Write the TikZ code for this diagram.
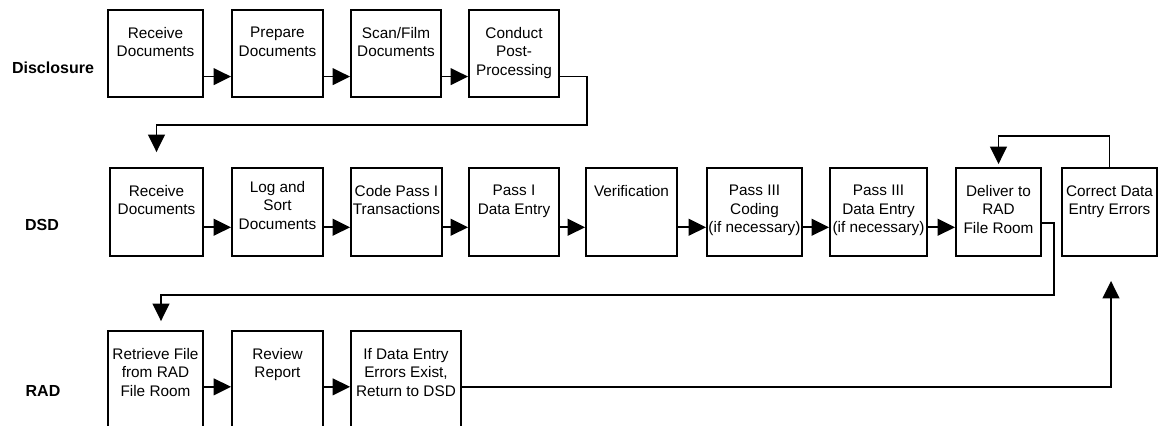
\documentclass[tikz,border=0pt]{standalone}
\usepackage{fontspec}
\setmainfont{Liberation Sans}
\usetikzlibrary{arrows.meta, calc, positioning}

\tikzset{
  box/.style 2 args={draw, line width=1.4pt, inner sep=0pt, minimum width=#1*0.75pt, minimum height=#2*0.75pt},
  txt/.style={anchor=north, align=center, inner sep=0pt, yshift=-13.5pt, font=\fontsize{11.5}{13.9}\selectfont},
  lane/.style={font=\fontsize{12}{14}\selectfont\bfseries},
  flow/.style={line width=1.2pt, -{Triangle[length=13pt, width=12.5pt]}}
}

\begin{document}
\begin{tikzpicture}[x=0.75pt, y=-0.75pt]
\useasboundingbox (0,0) rectangle (1159,425);

\node[lane] (disc) at (53,68) {Disclosure};
\node[lane] (dsd) at (42,225) {DSD};
\node[lane] (rad) at (43,391) {RAD};

\node[box={95}{87}, label={[txt]north:{Receive\\Documents}}] (discRecv) at (155.5,53.5) {};
\node[box={91}{87}, label={[txt]north:{Prepare\\Documents}}] (discPrep) at (277.5,53.5) {};
\node[box={90}{87}, label={[txt]north:{Scan/Film\\Documents}}] (discScan) at (396,53.5) {};
\node[box={90}{87}, label={[txt]north:{Conduct\\Post-\\Processing}}] (discPost) at (514,53.5) {};

\node[box={93}{88}, label={[txt]north:{Receive\\Documents}}] (dsdRecv) at (156.5,212) {};
\node[box={91}{88}, label={[txt, yshift=3pt]north:{Log and\\Sort\\Documents}}] (dsdSort) at (277.5,212) {};
\node[box={91}{88}, label={[txt]north:{Code Pass I\\Transactions}}] (dsdCode) at (396.5,212) {};
\node[box={90}{88}, label={[txt]north:{Pass I\\Data Entry}}] (dsdEntry) at (514,212) {};
\node[box={91}{88}, label={[txt]north:{Verification}}] (dsdVerify) at (631.5,212) {};
\node[box={95}{88}, label={[txt]north:{Pass III\\Coding\\(if necessary)}}] (dsdCoding) at (754.5,212) {};
\node[box={97}{88}, label={[txt]north:{Pass III\\Data Entry\\(if necessary)}}] (dsdEntryIII) at (878.5,212) {};
\node[box={85}{88}, label={[txt]north:{Deliver to\\RAD\\File Room}}] (dsdDeliver) at (998.5,212) {};
\node[box={95}{88}, label={[txt]north:{Correct Data\\Entry Errors}}] (dsdCorrect) at (1109.5,212) {};

\node[box={95}{96}, label={[txt]north:{Retrieve File\\from RAD\\File Room}}] (radRetrieve) at (155.5,379) {};
\node[box={91}{96}, label={[txt]north:{Review\\Report}}] (radReview) at (277.5,379) {};
\node[box={110}{96}, label={[txt]north:{If Data Entry\\Errors Exist,\\Return to DSD}}] (radReturn) at (406,379) {};

\foreach \a/\b in {discRecv/discPrep, discPrep/discScan, discScan/discPost}
  \draw[flow] ($(\a.north east)!.76!(\a.south east)$) -- ($(\b.north west)!.76!(\b.south west)$);
\foreach \a/\b in {dsdRecv/dsdSort, dsdSort/dsdCode, dsdCode/dsdEntry, dsdEntry/dsdVerify, dsdVerify/dsdCoding, dsdCoding/dsdEntryIII, dsdEntryIII/dsdDeliver}
  \draw[flow] ($(\a.north east)!.67!(\a.south east)$) -- ($(\b.north west)!.67!(\b.south west)$);
\foreach \a/\b in {radRetrieve/radReview, radReview/radReturn}
  \draw[flow] ($(\a.north east)!.58!(\a.south east)$) -- ($(\b.north west)!.58!(\b.south west)$);

\draw[flow] ($(discPost.north east)!.76!(discPost.south east)$) -| (587,125) -| ($(dsdRecv.north)+(0,-15)$);
\draw[flow] ($(dsdDeliver.north east)!.625!(dsdDeliver.south east)$) -| (1054,295) -| ($(radRetrieve.north)+(5.5,-9)$);
\draw[flow] (dsdCorrect.north) -- ++(0,-31) -| ($(dsdDeliver.north)+(0,-3)$);
\draw[flow] ($(radReturn.north east)!.58!(radReturn.south east)$) -| ($(dsdCorrect.south)+(1.5,24)$);

\end{tikzpicture}
\end{document}
